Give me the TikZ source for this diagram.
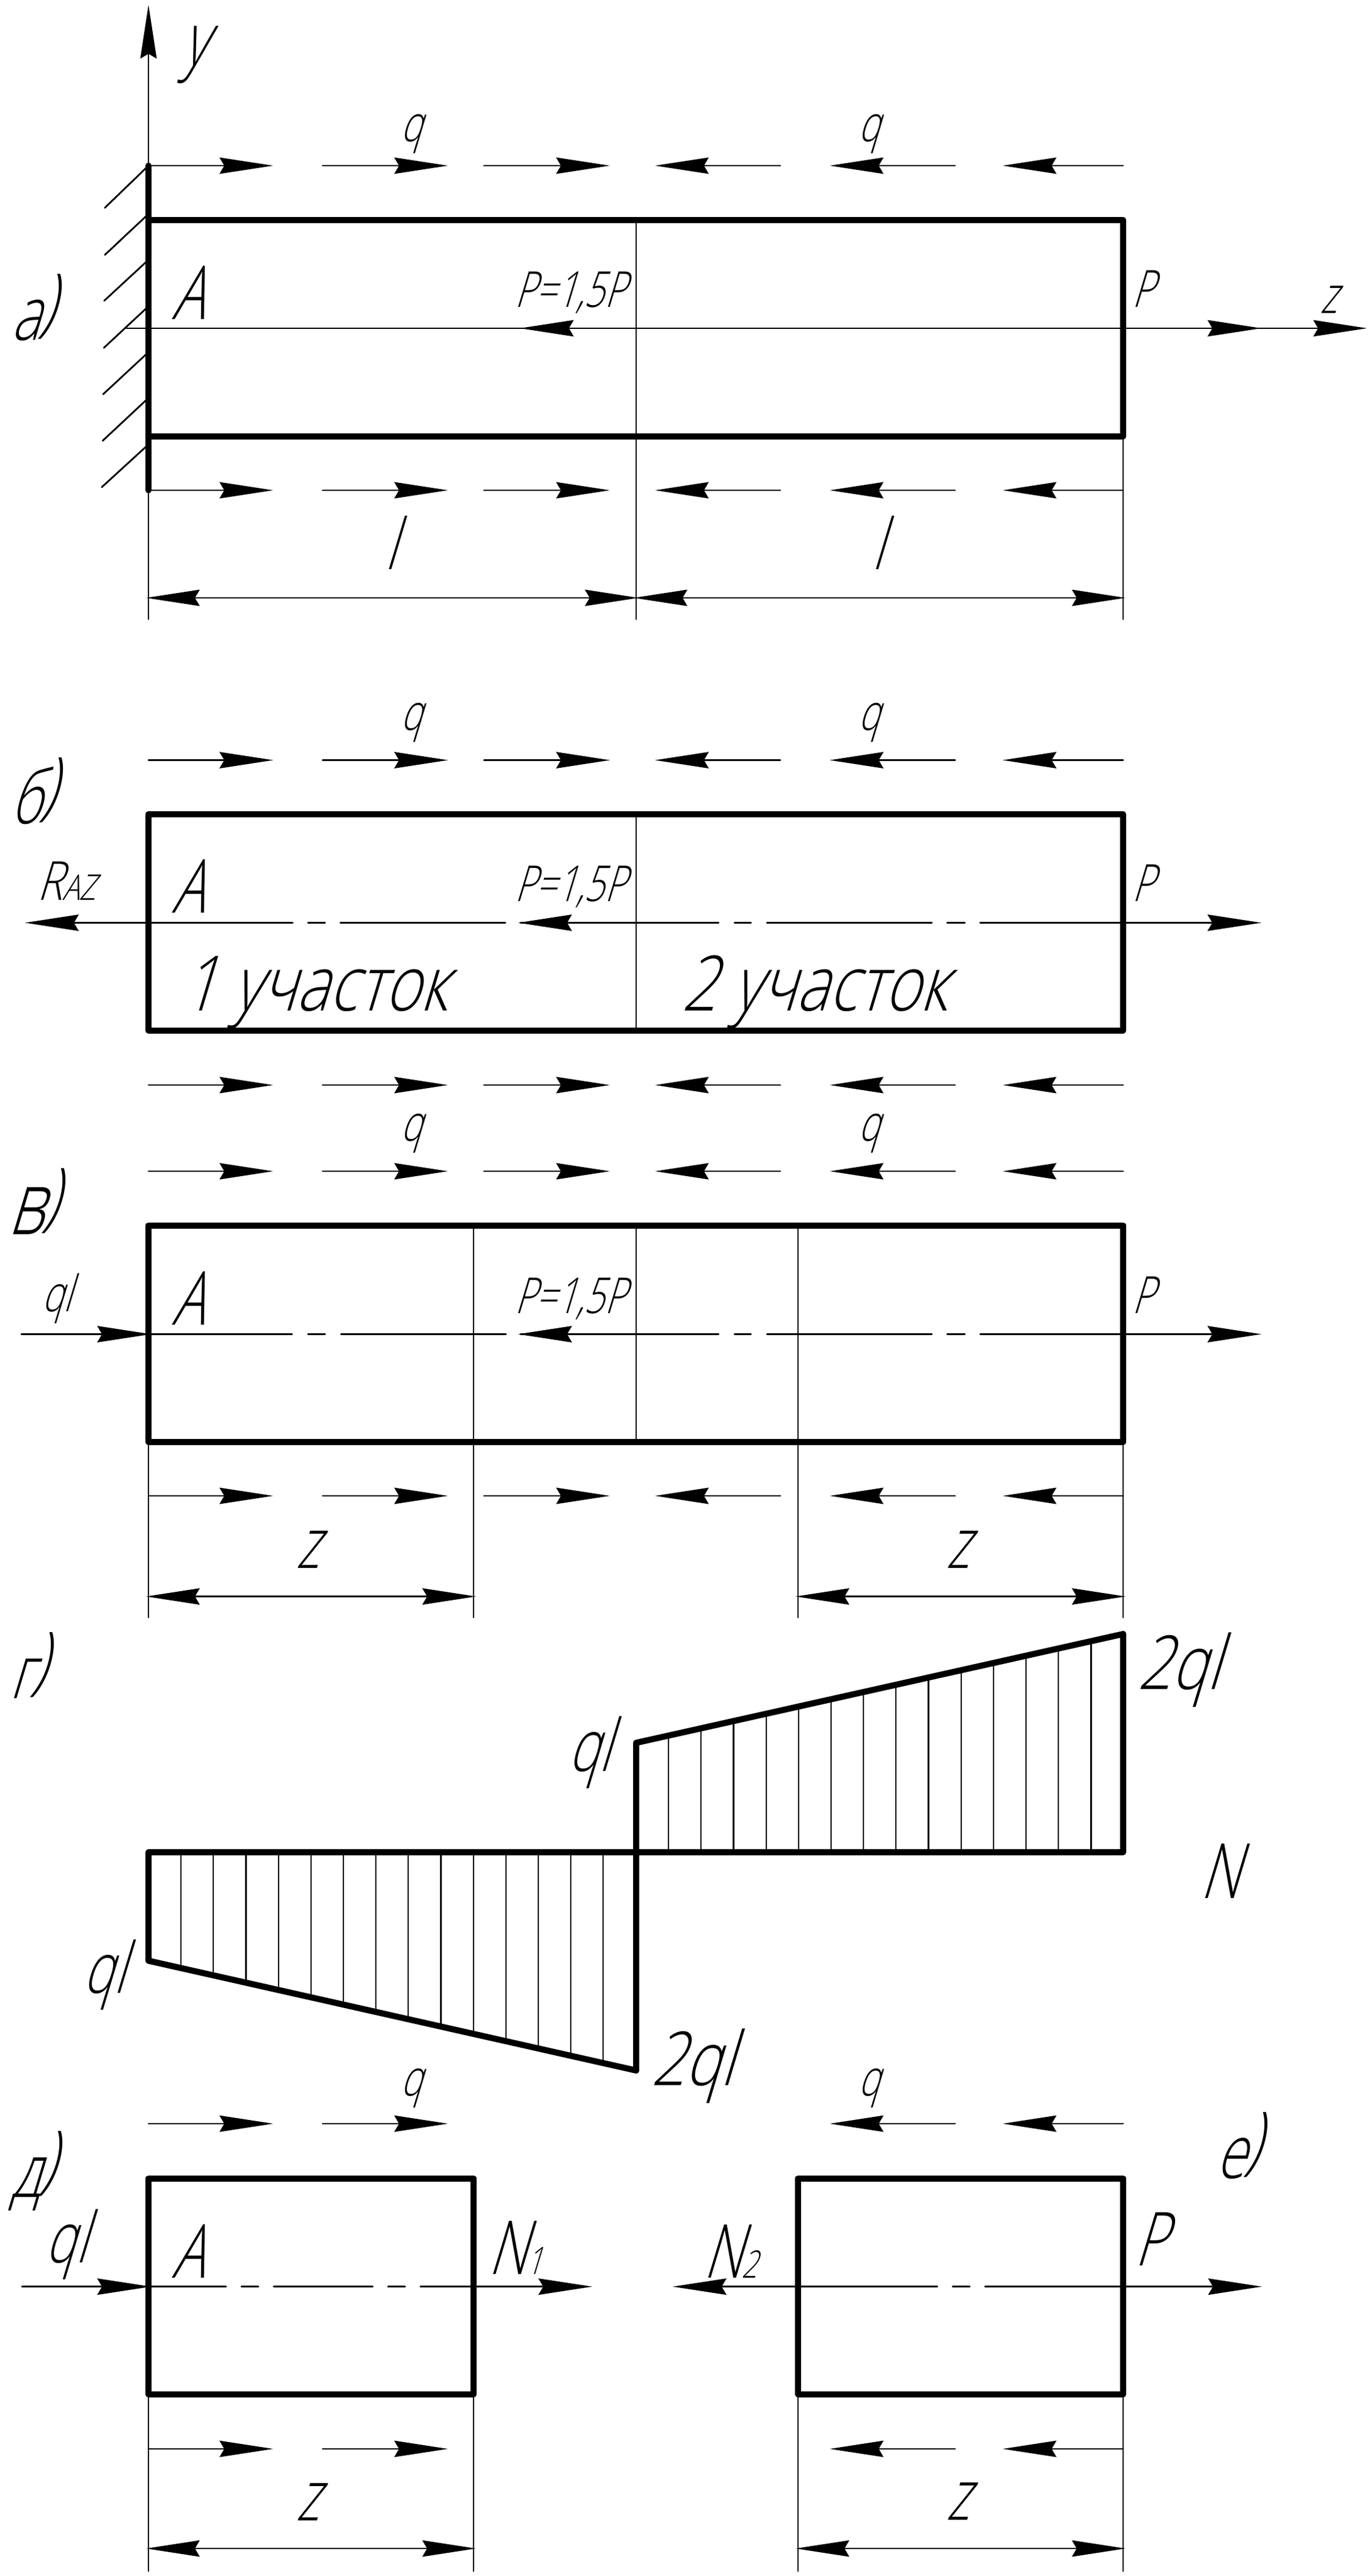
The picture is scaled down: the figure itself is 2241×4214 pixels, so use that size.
\documentclass[tikz,border=0pt]{standalone}
\usepackage{fontspec}
\usetikzlibrary{arrows.meta}
\newfontfamily\gost[FakeSlant=0.3,FakeStretch=0.72]{Open Sans Light}
\newfontfamily\gostw[FakeSlant=0.3,FakeStretch=0.8]{Open Sans Light}
\newcommand\gs[1]{\gost\fontsize{#1pt}{#1pt}\selectfont}
\newcommand\gw[1]{\gostw\fontsize{#1pt}{#1pt}\selectfont}
\newcommand\pl{\raisebox{.17em}{)}}
\tikzset{
  thinline/.style={line width=2.8pt,line cap=round},
  heavy/.style={line width=10pt,line join=round,line cap=round},
  tip/.style={thinline,shorten >=-4pt,-{Stealth[length=88pt,width=27pt,inset=8pt,line width=0pt]}},
  twotip/.style={thinline,shorten >=-4pt,shorten <=-4pt,{Stealth[length=88pt,width=27pt,inset=8pt,line width=0pt]}-{Stealth[length=88pt,width=27pt,inset=8pt,line width=0pt]}},
  hatchline/.style={line width=2.2pt},
  lab/.style={inner sep=0pt,anchor=base,xshift=-6pt},
  labw/.style={inner sep=0pt,anchor=base west},
}
\newcommand\rarrows[1]{\draw[tip] (243,#1)--(443,#1); \draw[tip] (528,#1)--(729,#1);}
\newcommand\rthird[1]{\draw[tip] (792,#1)--(994,#1);}
\newcommand\larrows[1]{\draw[tip] (1563,#1)--(1362,#1); \draw[tip] (1838,#1)--(1645,#1);}
\newcommand\lthird[1]{\draw[tip] (1277,#1)--(1076,#1);}
\newcommand\fullrow[1]{\rarrows{#1}\rthird{#1}\lthird{#1}\larrows{#1}}
\begin{document}
\begin{tikzpicture}[x=1pt,y=-1pt]
\useasboundingbox (0,0) rectangle (2241,4214);
\fill[white] (0,0) rectangle (2241,4214);

% --- a)
\draw[tip] (243,1013)--(243,12);
\fullrow{271}
\fullrow{802}
\draw[thinline] (1041,360)--(1041,1013);
\draw[thinline] (1838,714)--(1838,1013);
\foreach \ya/\xb/\yb in {271/171.5/340,350/171.5/417,425/170.5/492,501/170/569,576/168.7/645,651/168/721,727/166.5/797}
  \draw[thinline] (243,\ya)--(\xb,\yb);
\draw[thinline] (207,537)--(1838,537);
\draw[tip] (1041,537)--(855,537);
\draw[tip] (1838,537)--(2060,537);
\draw[tip] (2060,537)--(2233,537);
\draw[heavy] (243,271)--(243,802);
\draw[heavy] (243,360) rectangle (1838,714);
\draw[twotip] (243,978)--(1041,978);
\draw[twotip] (1041,978)--(1838,978);
\node[lab,font=\gs{122}] (ly) at (325,107) {y};
\node[lab,font=\gs{82}] (q1) at (679,231) {q};
\node[lab,font=\gs{82}] (q2) at (1428,231) {q};
\node[lab,font=\gs{122}] (pa) at (60,556) {а\pl};
\node[lab,font=\gs{122}] (A1) at (314,522) {A};
\node[lab,font=\gs{81}] (P1) at (939,502) {P=1,5P};
\node[lab,font=\gs{84}] (P2) at (1876,502) {P};
\node[lab,font=\gs{84}] (z0) at (2180,512) {z};
\node[lab,font=\gs{115}] (l1) at (645,931) {l};
\node[lab,font=\gs{115}] (l2) at (1442,931) {l};

% --- б)
\fullrow{1243.5}
\fullrow{1775}
\draw[thinline] (1041,1332)--(1041,1685.5);
\draw[thinline] (243,1509.5)--(479,1509.5) (504,1509.5)--(532,1509.5) (557,1509.5)--(827,1509.5);
\draw[thinline] (852,1509.5)--(1176,1509.5) (1202,1509.5)--(1229,1509.5) (1255,1509.5)--(1525,1509.5) (1550,1509.5)--(1579,1509.5) (1604,1509.5)--(1838,1509.5);
\draw[tip] (243,1509.5)--(45,1509.5);
\draw[tip] (1041,1509.5)--(852,1509.5);
\draw[tip] (1838,1509.5)--(2060,1509.5);
\draw[heavy] (243,1332) rectangle (1838,1685.5);
\node[lab,font=\gs{82}] (q3) at (679,1194) {q};
\node[lab,font=\gs{82}] (q4) at (1428,1194) {q};
\node[lab,font=\gs{122}] (pb) at (60,1347) {б\pl};
\node[labw,font=\gw{88}] (raz) at (60,1472) {R\gw{58}AZ};
\node[lab,font=\gs{122}] (A2) at (314,1493.5) {A};
\node[lab,font=\gs{81}] (P3) at (939,1474) {P=1,5P};
\node[lab,font=\gs{84}] (P4) at (1876,1474) {P};
\node[labw,font=\gw{125}] (s1) at (297,1653) {1 участок};
\node[labw,font=\gw{125}] (s2) at (1115,1653) {2 участок};

% --- в)
\fullrow{1916}
\fullrow{2447}
\draw[thinline] (775,2004.5)--(775,2646);
\draw[thinline] (1041,2004.5)--(1041,2359);
\draw[thinline] (1306,2004.5)--(1306,2646);
\draw[thinline] (243,2359)--(243,2646);
\draw[thinline] (1838,2359)--(1838,2646);
\draw[thinline] (243,2182.5)--(478,2182.5) (504,2182.5)--(532,2182.5) (558,2182.5)--(828,2182.5);
\draw[thinline] (852,2182.5)--(1176,2182.5) (1202,2182.5)--(1229,2182.5) (1255,2182.5)--(1525,2182.5) (1550,2182.5)--(1579,2182.5) (1604,2182.5)--(1838,2182.5);
\draw[tip] (35,2182.5)--(243,2182.5);
\draw[tip] (1041,2182.5)--(852,2182.5);
\draw[tip] (1838,2182.5)--(2060,2182.5);
\draw[heavy] (243,2004.5) rectangle (1838,2359);
\draw[twotip] (243,2611.6)--(775,2611.6);
\draw[twotip] (1306,2611.6)--(1838,2611.6);
\node[lab,font=\gs{82}] (q5) at (679,1866.6) {q};
\node[lab,font=\gs{82}] (q6) at (1428,1866.6) {q};
\node[lab,font=\gs{122}] (pv) at (60,2019) {{\gs{145}в}\pl};
\node[lab,font=\gs{82}] (ql1) at (99,2145) {ql};
\node[lab,font=\gs{122}] (A3) at (314,2167) {A};
\node[lab,font=\gs{81}] (P5) at (939,2148) {P=1,5P};
\node[lab,font=\gs{84}] (P6) at (1876,2148) {P};
\node[lab,font=\gs{115}] (z1) at (510,2565) {z};
\node[lab,font=\gs{115}] (z2) at (1574,2565) {z};

% --- г)
\foreach \k in {1,...,14} {
  \pgfmathsetmacro\xa{243+\k*53.17}
  \pgfmathsetmacro\ya{3207.5+\k*(3387-3207.5)/15}
  \draw[hatchline] (\xa,3030)--(\xa,\ya);
  \pgfmathsetmacro\xc{1041+\k*53.17}
  \pgfmathsetmacro\yc{2851-\k*(2851-2673)/15}
  \draw[hatchline] (\xc,3030)--(\xc,\yc);
}
\draw[heavy] (243,3030)--(243,3207.5)--(1041,3387)--(1041,2851)--(1838,2673)--(1838,3030)--cycle;
\node[lab,font=\gs{122}] (pg) at (52,2778) {г\pl};
\node[lab,font=\gs{118}] (ql2) at (970,2897) {ql};
\node[lab,font=\gw{122}] (ql3) at (1935,2763) {2ql};
\node[lab,font=\gs{125}] (N0) at (2002,3105) {N};
\node[lab,font=\gs{115}] (ql4) at (176,3260) {ql};
\node[lab,font=\gw{122}] (ql5) at (1139,3411) {2ql};

% --- д)
\rarrows{3474}
\rarrows{4006}
\draw[thinline] (243,3916.6)--(243,4206);
\draw[thinline] (775,3916.6)--(775,4206);
\draw[thinline] (243,3740.6)--(370,3740.6) (395,3740.6)--(423,3740.6) (448,3740.6)--(610,3740.6) (635,3740.6)--(663,3740.6) (688,3740.6)--(775,3740.6);
\draw[tip] (36,3740.6)--(243,3740.6);
\draw[tip] (775,3740.6)--(965,3740.6);
\draw[heavy] (243,3563.5) rectangle (775,3916.6);
\draw[twotip] (243,4169)--(775,4169);
\node[lab,font=\gs{82}] (q7) at (679,3428.5) {q};
\node[lab,font=\gs{122}] (pd) at (60,3594) {д\pl};
\node[lab,font=\gs{115}] (ql6) at (114,3701) {ql};
\node[lab,font=\gs{122}] (A4) at (314,3726) {A};
\node[labw,font=\gs{122}] (N1) at (798,3720) {N\gs{62}1};
\node[lab,font=\gs{115}] (z3) at (510,4123) {z};

% --- е)
\larrows{3474}
\larrows{4006}
\draw[thinline] (1306,3916.6)--(1306,4206);
\draw[thinline] (1838,3916.6)--(1838,4206);
\draw[thinline] (1306,3740.6)--(1534,3740.6) (1559,3740.6)--(1587,3740.6) (1612,3740.6)--(1838,3740.6);
\draw[tip] (1306,3740.6)--(1105,3740.6);
\draw[tip] (1838,3740.6)--(2061,3740.6);
\draw[heavy] (1306,3563.5) rectangle (1838,3916.6);
\draw[twotip] (1306,4169)--(1838,4169);
\node[lab,font=\gs{82}] (q8) at (1428,3428.5) {q};
\node[lab,font=\gs{122}] (pe) at (2032,3563.5) {е\pl};
\node[lab,font=\gs{122}] (P7) at (1888,3706) {P};
\node[labw,font=\gs{122}] (N2) at (1150,3726) {N\gs{62}2};
\node[lab,font=\gs{115}] (z4) at (1574,4122) {z};
\end{tikzpicture}
\end{document}
